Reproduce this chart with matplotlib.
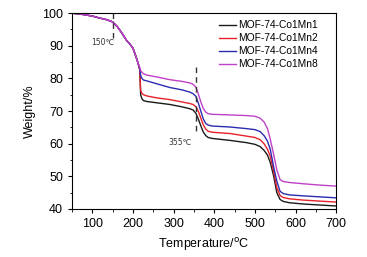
import numpy as np
import matplotlib
matplotlib.use('Agg')
import matplotlib.pyplot as plt
from matplotlib.ticker import MultipleLocator
plt.rcParams['font.family'] = ['Liberation Sans', 'DejaVu Sans']

# temperatures (degC) shared by all curves
temp = [50, 76, 100, 118, 135, 150, 162, 175, 185, 192, 200, 208, 213, 217, 219, 222, 226, 235,
        260, 291, 320, 340, 348, 355, 361, 367, 373, 379, 385, 395, 439, 480, 500, 513, 523,
        531, 538, 546, 554, 562, 570, 585, 620, 660, 700]

# first weight-loss step is the same for every sample
common = [100, 99.6, 99.1, 98.5, 98, 97.3, 95.8, 93.5, 91.5, 90.6, 89.3, 86.5, 84.5]

# weight (%) for each sample
mn1 = common + [82.5, 75, 73.8, 73.2, 72.9, 72.5, 72, 71.3, 70.7, 70.3, 69.3, 67.5, 65.5, 63.6,
                62.5, 61.9, 61.6, 61.0, 60.3, 59.8, 59.1, 57.9, 56.5, 54.2, 50.2, 45, 42.9, 42.3,
                41.9, 41.5, 41.2, 40.9]
mn2 = common + [82.7, 76.3, 75.4, 75, 74.6, 74, 73.5, 72.8, 72.3, 72, 71.3, 69.9, 67.8, 65.8,
                64.5, 63.8, 63.5, 63.1, 62.3, 61.9, 61.2, 59.9, 58.3, 56.1, 51.6, 46.5, 44.1, 43.5,
                43.1, 42.7, 42.4, 42.1]
mn4 = common + [82.8, 81, 80, 79.5, 79.2, 78.3, 77.2, 76.5, 75.8, 75.3, 74.5, 72.4, 70, 67.6,
                66.2, 65.7, 65.4, 65.1, 64.6, 64.3, 63.7, 62.4, 60.8, 58.2, 53, 48.5, 45.4, 44.7,
                44.3, 44, 43.7, 43.4]
mn8 = common + [83.3, 82.4, 81.9, 81.4, 81, 80.4, 79.6, 79.1, 78.6, 78.2, 77.3, 75.2, 72.8, 70.8,
                69.7, 69.2, 69, 68.8, 68.6, 68.4, 67.8, 66.6, 64.6, 61.3, 56.8, 52, 49, 48.4,
                48.1, 47.7, 47.3, 47]

labels = ['MOF-74-Co1Mn1', 'MOF-74-Co1Mn2', 'MOF-74-Co1Mn4', 'MOF-74-Co1Mn8']
colors = ['#1a1a1a', '#e8202a', '#2b2bb0', '#c040c8']

fig = plt.figure(figsize=(3.67, 2.57), dpi=100)
ax = fig.add_axes([0.196, 0.187, 0.72, 0.762])

for y, lab, c in zip([mn1, mn2, mn4, mn8], labels, colors):
    ax.plot(temp, y, color=c, lw=1.0, label=lab)

# marker lines
ax.plot([150, 150], [100, 92.5], color='#333333', lw=1.0, ls=(0, (4, 3)))
ax.plot([355, 355], [83.5, 63.5], color='#333333', lw=1.0, ls=(0, (4, 3)))
ax.text(126, 91, '150℃', fontsize=5.5, ha='center', va='center', color='#333333',
        family=['DejaVu Sans'])
ax.text(345, 60.5, '355℃', fontsize=5.5, ha='right', va='center', color='#333333',
        family=['DejaVu Sans'])

ax.set_xlim(50, 700)
ax.set_ylim(40, 100)
ax.xaxis.set_major_locator(MultipleLocator(100))
ax.xaxis.set_minor_locator(MultipleLocator(50))
ax.yaxis.set_major_locator(MultipleLocator(10))
ax.yaxis.set_minor_locator(MultipleLocator(5))
ax.tick_params(which='major', direction='out', length=3, width=0.8, labelsize=9)
ax.tick_params(which='minor', direction='out', length=1.8, width=0.6)
for s in ax.spines.values():
    s.set_linewidth(0.8)

ax.set_xlabel('Temperature/$^\\mathrm{o}$C', fontsize=9)
ax.set_ylabel('Weight/%', fontsize=9)

ax.legend(frameon=False, loc='upper left', bbox_to_anchor=(0.54, 0.985), fontsize=7.4,
          handlelength=1.7, handletextpad=0.2, labelspacing=0.3, borderaxespad=0)

fig.savefig('out.png', dpi=100)
